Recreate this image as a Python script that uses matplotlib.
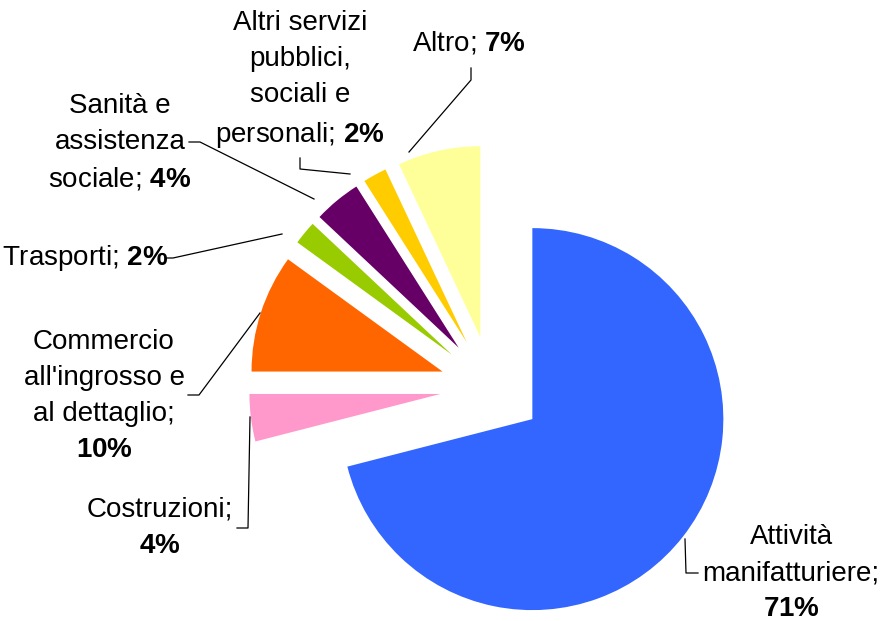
import matplotlib
matplotlib.use('Agg')
import matplotlib.pyplot as plt

# settori e quote (%)
sectors = ['Attività manifatturiere', 'Costruzioni', "Commercio all'ingrosso e al dettaglio",
           'Trasporti', 'Sanità e assistenza sociale',
           'Altri servizi pubblici, sociali e personali', 'Altro']
shares = [71, 4, 10, 2, 4, 2, 7]
colors = ['#3366FF', '#FF99CC', '#FF6600', '#99CC00', '#660066', '#FFCC00', '#FFFF99']
label_text = ['Attività\nmanifatturiere;', 'Costruzioni;', "Commercio\nall'ingrosso e\nal dettaglio;",
              'Trasporti;', 'Sanità e\nassistenza\nsociale;', 'Altri servizi\npubblici,\nsociali e\npersonali;',
              'Altro;']
pct_newline = [True, True, True, False, False, False, False]

plt.rcParams['font.family'] = ['Liberation Sans', 'DejaVu Sans']
plt.rcParams['mathtext.fontset'] = 'custom'
plt.rcParams['mathtext.rm'] = 'Liberation Sans'
plt.rcParams['mathtext.bf'] = 'Liberation Sans:bold'

W, H = 882, 621
CX, CY, R = 491.6, 387.5, 191.0   # pie centre / radius in pixels

def px(x, y):
    return ((x - CX) / R, (CY - y) / R)

fig = plt.figure(figsize=(W / 100, H / 100), dpi=100)
ax = fig.add_axes([0, 0, 1, 1])
ax.pie(shares, colors=colors, startangle=90, counterclock=False, radius=1,
       explode=[0.27] * len(shares), wedgeprops={'linewidth': 0})
ax.set_aspect('auto')
ax.set_xlim(px(0, 0)[0], px(W, 0)[0])
ax.set_ylim(px(0, H)[1], px(0, 0)[1])
ax.axis('off')

# label centres and leader paths (pixels)
label_pos = [(791, 573), (160, 528), (104, 396), (85, 258), (120, 143), (300, 80), (469, 43)]
leaders = [
    [(685, 539), (686, 573), (698, 573)],
    [(250, 417), (248, 528), (237, 528)],
    [(260, 313), (199, 395), (188, 395)],
    [(282, 234), (173, 258), (167, 258)],
    [(314, 199), (200, 142), (189, 142)],
    [(350, 174), (300, 169), (300, 158)],
    [(409, 152), (471, 80), (471, 68)],
]

for txt, v, nl, pos, path in zip(label_text, shares, pct_newline, label_pos, leaders):
    sep = '\n' if nl else ' '
    s = txt + sep + r'$\mathbf{' + str(v) + r'\%}$'
    x, y = px(*pos)
    ax.text(x, y, s, ha='center', va='center', multialignment='center',
            fontsize=20, linespacing=1.5, color='black')
    pts = [px(a, b) for a, b in path]
    ax.plot([p[0] for p in pts], [p[1] for p in pts], color='black', lw=0.9)

fig.savefig('out.png', dpi=100)
